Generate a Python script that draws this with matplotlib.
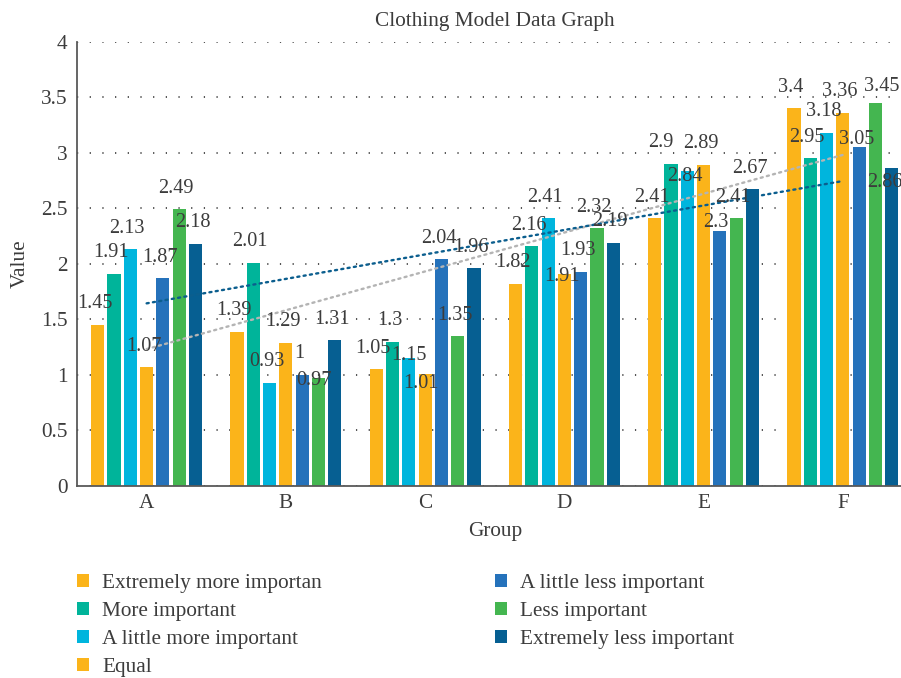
import numpy as np
import matplotlib
matplotlib.use("Agg")
import matplotlib.pyplot as plt
from matplotlib.patches import Patch

# ---- data ----
groups = ["A", "B", "C", "D", "E", "F"]
series_names = [
    "Extremely more importan",
    "More important",
    "A little more important",
    "Equal",
    "A little less important",
    "Less important",
    "Extremely less important",
]
extremely_more = [1.45, 1.39, 1.05, 1.82, 2.41, 3.40]
more_important = [1.91, 2.01, 1.30, 2.16, 2.90, 2.95]
little_more = [2.13, 0.93, 1.15, 2.41, 2.84, 3.18]
equal = [1.07, 1.29, 1.01, 1.91, 2.89, 3.36]
little_less = [1.87, 1.00, 2.04, 1.93, 2.30, 3.05]
less_important = [2.49, 0.97, 1.35, 2.32, 2.41, 3.45]
extremely_less = [2.18, 1.31, 1.96, 2.19, 2.67, 2.86]
y_ticks = [0, 0.5, 1, 1.5, 2, 2.5, 3, 3.5, 4]

series_values = [extremely_more, more_important, little_more, equal,
                 little_less, less_important, extremely_less]
colors = ["#FBB41A", "#00B49A", "#00B5DD", "#FBB41A",
          "#2572BB", "#44B650", "#065F92"]

# value-label placement (pixel offsets of label centre from bar top)
default_nudge = (-3, -21)
label_nudge = {
    (5, 1): (-4, 2),
    (2, 2): (0, -3),
    (3, 2): (-4, 10),
    (3, 3): (-2, 3),
    (1, 4): (-10, -21),
    (2, 4): (-2, 6),
    (4, 4): (-4, -8),
    (4, 5): (-2, -8),
    (5, 5): (6, -16),
    (6, 5): (-7, 14),
}

plt.rcParams["font.family"] = ["Liberation Serif", "DejaVu Serif"]
text_color = "#3C3C3C"
fs = 15.3
value_fs = 14.6

fig = plt.figure(figsize=(9.01, 6.78), dpi=100)
ax = fig.add_axes([77 / 901, 1 - 486 / 678, 835.5 / 901, 444.3 / 678])

x = np.arange(len(groups))
slot = 0.117
bar_w = 0.094
n = len(series_values)

for i, (vals, col) in enumerate(zip(series_values, colors)):
    pos = x + (i - (n - 1) / 2) * slot
    ax.bar(pos, vals, width=bar_w, color=col, zorder=2)
    for g, (px, v) in enumerate(zip(pos, vals)):
        dx, dy = label_nudge.get((i, g), default_nudge)
        ax.annotate(f"{v:g}", xy=(px, v), xytext=(dx, -dy),
                    textcoords="offset pixels", ha="center", va="center",
                    fontsize=value_fs, color=text_color, zorder=5)

# linear trend lines for two of the series
for vals, col in [(little_more, "#B4B4B4"), (extremely_less, "#0B5E8E")]:
    k, b = np.polyfit(x, vals, 1)
    ax.plot(x, k * x + b, color=col, lw=1.7, linestyle=(0, (0.9, 1.8)),
            dash_capstyle="round", zorder=4)

ax.set_xlim(-0.5, 5.5)
ax.set_ylim(0, 4)
ax.set_yticks(y_ticks)
ax.set_yticklabels([f"{t:g}" for t in y_ticks])
ax.set_xticks(x)
ax.set_xticklabels(groups)
ax.tick_params(axis="both", length=0, labelsize=fs, colors=text_color)
ax.tick_params(axis="y", pad=7)
ax.tick_params(axis="x", pad=6)

ax.yaxis.grid(True, color="#222222", linestyle=(0, (0.8, 7.5)), lw=1.1, zorder=0)
ax.set_axisbelow(True)
for s in ["top", "right"]:
    ax.spines[s].set_visible(False)
for s in ["left", "bottom"]:
    ax.spines[s].set_color("#595959")
    ax.spines[s].set_linewidth(1.3)

ax.set_title("Clothing Model Data Graph", fontsize=fs, color=text_color, pad=11)
ax.set_xlabel("Group", fontsize=fs, color=text_color, labelpad=6)
ax.set_ylabel("Value", fontsize=fs, color=text_color, labelpad=8)

handles = [Patch(facecolor=c, edgecolor="none") for c in colors]
leg_kw = dict(frameon=False, fontsize=fs, handlelength=0.58, handleheight=0.58,
              handletextpad=0.62, labelspacing=0.42, borderpad=0, borderaxespad=0,
              loc="upper left", labelcolor=text_color)
fig.legend(handles[:4], series_names[:4], bbox_to_anchor=(77 / 901, 1 - 574 / 678), **leg_kw)
fig.legend(handles[4:], series_names[4:], bbox_to_anchor=(495 / 901, 1 - 574 / 678), **leg_kw)

fig.savefig("out.png", dpi=100)
